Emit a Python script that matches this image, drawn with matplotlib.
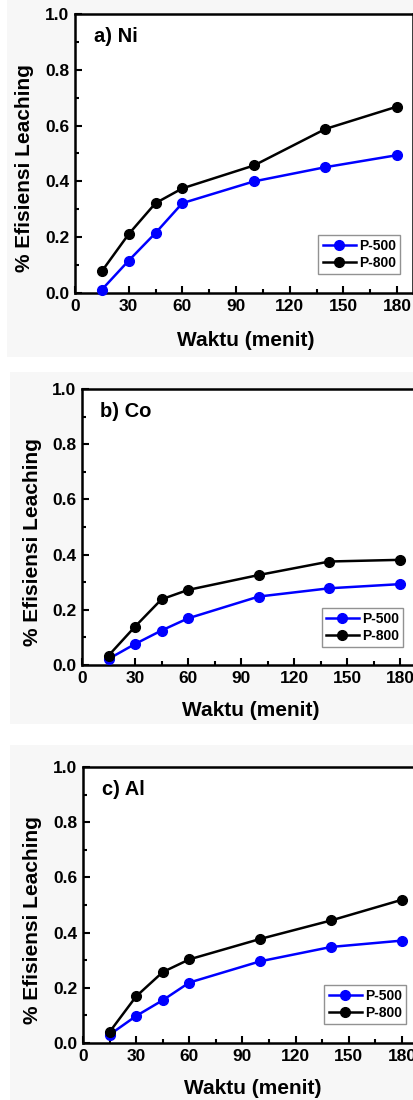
import matplotlib
matplotlib.use("Agg")
import matplotlib.pyplot as plt
from matplotlib.ticker import MultipleLocator
from matplotlib.patches import Rectangle

plt.rcParams['font.family'] = ['Liberation Sans', 'DejaVu Sans']
plt.rcParams['font.weight'] = 'bold'

# data
waktu = [15, 30, 45, 60, 100, 140, 180]
ni_p500 = [0.012, 0.116, 0.215, 0.322, 0.400, 0.451, 0.494]
ni_p800 = [0.078, 0.211, 0.322, 0.375, 0.457, 0.588, 0.668]
co_p500 = [0.022, 0.076, 0.125, 0.169, 0.248, 0.278, 0.293]
co_p800 = [0.034, 0.139, 0.238, 0.272, 0.326, 0.375, 0.381]
al_p500 = [0.030, 0.098, 0.155, 0.219, 0.296, 0.348, 0.371]
al_p800 = [0.040, 0.169, 0.257, 0.303, 0.377, 0.444, 0.519]
labels = ["a) Ni", "b) Co", "c) Al"]
seri = ["P-500", "P-800"]

W, H = 414, 1100
fig = plt.figure(figsize=(W / 100, H / 100), dpi=100)

# faint grey backgrounds of the pasted panels
for x0, y0, y1 in [(7, 0, 357), (10, 372, 724), (10, 745, 1100)]:
    fig.patches.append(Rectangle((x0 / W, 1 - y1 / H), (W - x0) / W, (y1 - y0) / H,
                                 transform=fig.transFigure, facecolor="#f7f7f7",
                                 edgecolor="none", zorder=-10))

# axes boxes in pixels: left, y of 0, y of 1.0, px per minute, xmax
boxes = [(75, 293, 14, 1.789, 189), (82, 665, 389, 1.767, 190), (83, 1043, 767, 1.772, 190)]
ylab_x = [25, 33, 33]
xlab_y = [340, 710, 1088]
leg_pos = [(0.961, 0.068), (0.956, 0.065), (0.959, 0.069)]
data = [(ni_p500, ni_p800), (co_p500, co_p800), (al_p500, al_p800)]

for i, (left, yb, yt, sc, xmax) in enumerate(boxes):
    ax = fig.add_axes([left / W, 1 - yb / H, xmax * sc / W, (yb - yt) / H])
    ax.set_facecolor("white")
    p5, p8 = data[i]
    ax.plot(waktu, p5, color="#0000ff", marker="o", ms=7, lw=1.8, label=seri[0], clip_on=False, zorder=3)
    ax.plot(waktu, p8, color="black", marker="o", ms=7, lw=1.8, label=seri[1], clip_on=False, zorder=3)
    ax.set_xlim(0, xmax)
    ax.set_ylim(0, 1.0)
    ax.xaxis.set_major_locator(MultipleLocator(30))
    ax.xaxis.set_minor_locator(MultipleLocator(15))
    ax.yaxis.set_major_locator(MultipleLocator(0.2))
    ax.yaxis.set_minor_locator(MultipleLocator(0.1))
    ax.yaxis.set_major_formatter(plt.FuncFormatter(lambda v, p: f"{v:.1f}"))
    ax.tick_params(which="both", direction="in", width=1.5, labelsize=12.5)
    ax.tick_params(which="major", length=5, pad=4)
    ax.tick_params(which="minor", length=3)
    for s in ax.spines.values():
        s.set_linewidth(1.8)
    for t in ax.get_xticklabels() + ax.get_yticklabels():
        t.set_fontweight("bold")
    ax.text(0.055, 0.92, labels[i], transform=ax.transAxes, fontsize=14.5,
            fontweight="bold", va="center")
    leg = ax.legend(loc="lower right", bbox_to_anchor=leg_pos[i],
                    fontsize=10, frameon=True, fancybox=False, handlelength=2.4,
                    borderpad=0.3, labelspacing=0.2, handletextpad=0.2, borderaxespad=0)
    leg.get_frame().set_edgecolor("#777777")
    leg.get_frame().set_linewidth(1.0)
    for t in leg.get_texts():
        t.set_fontweight("bold")
    fig.text(ylab_x[i] / W, 1 - ((yb + yt) / 2 + 15) / H, "% Efisiensi Leaching", rotation=90,
             ha="center", va="center", fontsize=15, fontweight="bold")
    fig.text((left + 180 * sc / 2 + 10) / W, 1 - xlab_y[i] / H, "Waktu (menit)",
             ha="center", va="center", fontsize=15, fontweight="bold")

fig.savefig("out.png", dpi=100, facecolor="white")
